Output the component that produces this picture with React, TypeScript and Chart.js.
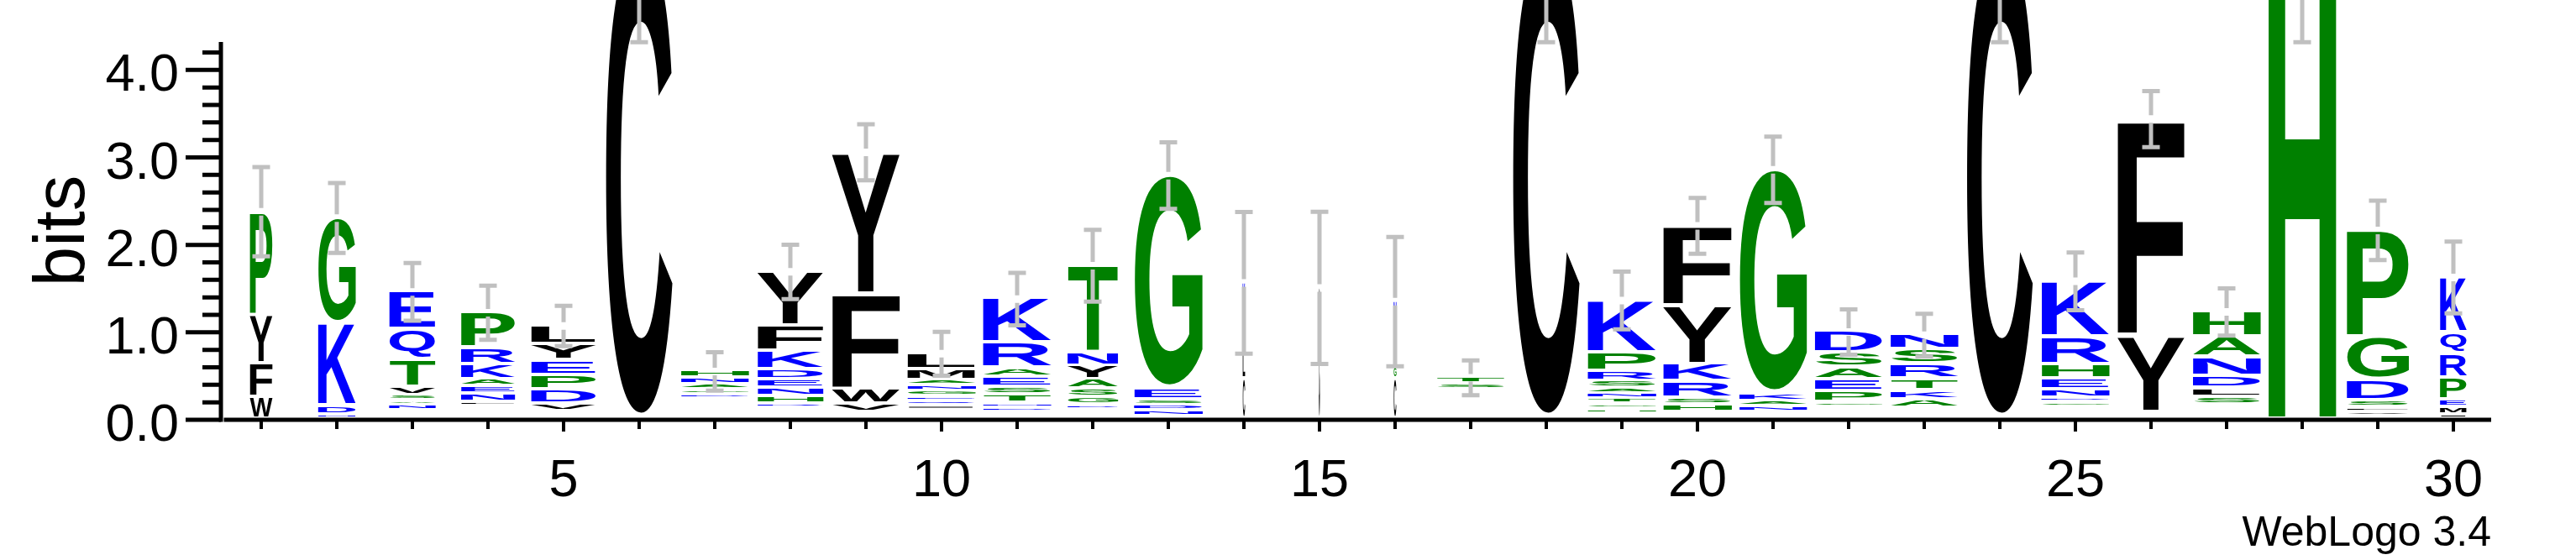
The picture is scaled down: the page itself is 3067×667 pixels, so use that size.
import React, { useEffect, useRef } from 'react';
import { Chart, registerables } from 'chart.js';

Chart.register(...registerables);

const positions = [1, 2, 3, 4, 5, 6, 7, 8, 9, 10, 11, 12, 13, 14, 15, 16, 17, 18, 19, 20, 21, 22, 23, 24, 25, 26, 27, 28, 29, 30];

// letters of each stack, listed bottom -> top
const columnLetters = [
  'WFYP', 'NDKG', 'NASVTQE', 'LNEAKRP', 'VDPEYL', 'C', 'DGANH', 'RHNEDKFY', 'VWFY', 'IQEGNAML',
  'DNTSEARK', 'DGSAYNT', 'NDSEG', 'CLK', 'C', 'CGN', 'ST', 'C', 'HGTNASRPK', 'HSRKYF',
  'NAKG', 'GPEASD', 'AKTRSN', 'C', 'GDNEHRK', 'YF', 'SLDNAH', 'H', 'VLSDGP', 'IMEPRQK',
];

// height of each letter in bits, same order as columnLetters
const columnBits = [
  [0.21, 0.345, 0.52, 1.15],
  [0.01, 0.064, 0.91, 1.17],
  [0.02, 0.016, 0.026, 0.055, 0.27, 0.31, 0.40],
  [0.01, 0.055, 0.048, 0.045, 0.134, 0.15, 0.37],
  [0.048, 0.122, 0.128, 0.128, 0.15, 0.176],
  [5.4],
  [0.01, 0.016, 0.022, 0.032, 0.048],
  [0.016, 0.048, 0.058, 0.058, 0.074, 0.173, 0.25, 0.585],
  [0.058, 0.137, 1.046, 1.59],
  [0.01, 0.019, 0.016, 0.022, 0.026, 0.022, 0.086, 0.147],
  [0.01, 0.016, 0.055, 0.048, 0.08, 0.064, 0.25, 0.47],
  [0.016, 0.048, 0.058, 0.07, 0.118, 0.112, 0.966],
  [0.026, 0.022, 0.022, 0.093, 2.405],
  [0.42, 0.31, 0.72],
  [1.47],
  [0.42, 0.096, 0.72],
  [0.022, 0.041],
  [5.4],
  [0.016, 0.016, 0.022, 0.022, 0.022, 0.048, 0.07, 0.176, 0.566],
  [0.048, 0.038, 0.154, 0.16, 0.633, 0.88],
  [0.025, 0.025, 0.048, 2.53],
  [0.016, 0.09, 0.096, 0.096, 0.128, 0.21],
  [0.058, 0.067, 0.093, 0.128, 0.128, 0.134],
  [5.4],
  [0.013, 0.013, 0.058, 0.086, 0.125, 0.278, 0.605],
  [0.845, 2.44],
  [0.05, 0.067, 0.099, 0.179, 0.198, 0.25],
  [5.38],
  [0.01, 0.01, 0.042, 0.204, 0.454, 1.183],
  [0.01, 0.045, 0.048, 0.217, 0.24, 0.198, 0.6],
];

// bits taken by letters too small to be drawn, at the bottom of each stack
const hiddenBits = [0, 0, 0.096, 0.144, 0.09, 0, 0.233, 0.122, 0.074, 0.1, 0.08, 0.105, 0.032, 0, 0, 0, 0.34, 0, 0.06, 0.074, 0.077, 0.137, 0.128, 0, 0.137, 0.077, 0.16, 0, 0.032, 0];

// error bar half-lengths in bits
const errorBits = [0.51, 0.4, 0.33, 0.31, 0.23, 1.12, 0.22, 0.31, 0.32, 0.25, 0.3, 0.41, 0.38, 0.81, 0.87, 0.74, 0.2, 1.12, 0.33, 0.32, 0.38, 0.26, 0.245, 1.12, 0.33, 0.32, 0.27, 1.1, 0.34, 0.41];

// stack widths as fraction of a full column (fraction of non-gap residues)
const columnWidths = [0.33, 0.55, 0.68, 0.79, 0.95, 0.99, 0.99, 0.96, 0.99, 1, 1, 0.74, 1, 0.035, 0.02, 0.04, 1, 0.99, 1, 1, 0.99, 0.99, 0.99, 0.98, 0.99, 0.98, 0.99, 0.99, 0.91, 0.39];

const xLabeledTicks = [5, 10, 15, 20, 25, 30];
const yMajorTicks = [0, 1, 2, 3, 4];
const yAxisTop = 4.32; // log2(20)
const yMax = 4.8;
const yLabel = 'bits';
const creditText = 'WebLogo 3.4';

// hydrophobicity colour scheme
const hydrophilic = 'RKDENQ';
const neutral = 'SGHTAP';
const colorOf = (ch: string) => (hydrophilic.includes(ch) ? '#0000ff' : neutral.includes(ch) ? '#008000' : '#000000');

const FONT = '"Liberation Sans", Arial, Helvetica, sans-serif';

const metricsCache: Record<string, { L: number; R: number; A: number; D: number }> = {};
function glyphMetrics(ctx: CanvasRenderingContext2D, ch: string) {
  if (!metricsCache[ch]) {
    ctx.save();
    ctx.font = `bold 400px ${FONT}`;
    ctx.textAlign = 'left';
    ctx.textBaseline = 'alphabetic';
    const m = ctx.measureText(ch);
    metricsCache[ch] = {
      L: m.actualBoundingBoxLeft,
      R: m.actualBoundingBoxRight,
      A: m.actualBoundingBoxAscent,
      D: m.actualBoundingBoxDescent,
    };
    ctx.restore();
  }
  return metricsCache[ch];
}

const logoPlugin = {
  id: 'sequenceLogo',
  afterDatasetsDraw(chart: any) {
    const { ctx, chartArea } = chart;
    const xs = chart.scales.x;
    const ys = chart.scales.y;
    const y0 = ys.getPixelForValue(0);
    const ppb = y0 - ys.getPixelForValue(1);
    const step = xs.getPixelForValue(2) - xs.getPixelForValue(1);
    const fullW = step * 0.91;
    const GAP = 4;
    const AXOFF = 2;

    ctx.save();
    const errs: { cx: number; c: number; e: number }[] = [];
    positions.forEach((p, i) => {
      const cx = xs.getPixelForValue(p);
      const w = Math.max(fullW * columnWidths[i], 1);
      let yb = y0 - AXOFF - hiddenBits[i] * ppb;
      const letters = columnLetters[i];
      const bits = columnBits[i];
      let inkTop = yb;
      for (let k = 0; k < letters.length; k++) {
        const ch = letters[k];
        const h = bits[k] * ppb;
        const top = yb - GAP / 2 - h;
        const m = glyphMetrics(ctx, ch);
        const gw = m.L + m.R;
        const gh = m.A + m.D;
        ctx.save();
        ctx.translate(cx - w / 2, top);
        ctx.scale(w / gw, h / gh);
        ctx.font = `bold 400px ${FONT}`;
        ctx.textAlign = 'left';
        ctx.textBaseline = 'alphabetic';
        ctx.fillStyle = colorOf(ch);
        ctx.fillText(ch, m.L, m.A);
        ctx.restore();
        inkTop = top;
        yb = yb - GAP - h;
      }
      errs.push({ cx, c: inkTop, e: errorBits[i] * ppb });
    });

    // error bars
    ctx.strokeStyle = '#c0c0c0';
    ctx.lineWidth = 5;
    ctx.lineCap = 'butt';
    const half = 4.5;
    const capW = 21;
    errs.forEach(({ cx, c, e }) => {
      const hi = c - e;
      const lo = c + e;
      ctx.beginPath();
      ctx.moveTo(cx, hi);
      ctx.lineTo(cx, c - half);
      ctx.moveTo(cx, c + half);
      ctx.lineTo(cx, lo);
      ctx.moveTo(cx - capW / 2, hi);
      ctx.lineTo(cx + capW / 2, hi);
      ctx.moveTo(cx - capW / 2, lo);
      ctx.lineTo(cx + capW / 2, lo);
      ctx.stroke();
    });

    // axes
    ctx.strokeStyle = '#000';
    ctx.lineWidth = 5;
    const yAxisX = chartArea.left - 3;
    ctx.beginPath();
    ctx.moveTo(chartArea.left + 0.5, y0);
    ctx.lineTo(chartArea.right, y0);
    ctx.moveTo(yAxisX, ys.getPixelForValue(yAxisTop));
    ctx.lineTo(yAxisX, y0 + 2.5);
    ctx.stroke();

    // y ticks: major each bit, minor each 0.2 bit
    ctx.beginPath();
    for (let t = 0; t <= 21; t++) {
      const v = t * 0.2;
      const py = ys.getPixelForValue(v);
      const major = t % 5 === 0;
      ctx.moveTo(yAxisX - (major ? 42 : 22), py);
      ctx.lineTo(yAxisX, py);
    }
    ctx.stroke();

    // y tick labels
    ctx.fillStyle = '#000';
    ctx.font = `63px ${FONT}`;
    ctx.textAlign = 'right';
    ctx.textBaseline = 'alphabetic';
    yMajorTicks.forEach((v) => {
      ctx.fillText(v.toFixed(1), 213, ys.getPixelForValue(v) + 25);
    });

    // x ticks
    ctx.lineWidth = 4;
    ctx.beginPath();
    positions.forEach((p) => {
      const px = xs.getPixelForValue(p);
      const major = xLabeledTicks.includes(p);
      ctx.moveTo(px, y0);
      ctx.lineTo(px, y0 + (major ? 14 : 11));
    });
    ctx.stroke();

    // axis title
    ctx.font = `85px ${FONT}`;
    ctx.textAlign = 'center';
    ctx.textBaseline = 'alphabetic';
    ctx.save();
    ctx.translate(100, ys.getPixelForValue(yAxisTop / 2));
    ctx.rotate(-Math.PI / 2);
    ctx.fillText(yLabel, 0, 0);
    ctx.restore();

    // credit
    ctx.font = `50px ${FONT}`;
    ctx.textAlign = 'right';
    ctx.fillText(creditText, chartArea.right, 650);
    ctx.restore();
  },
};

export default function App() {
  const ref = useRef<HTMLCanvasElement>(null);
  useEffect(() => {
    document.body.style.margin = '0';
    const canvas = ref.current!;
    const chart = new Chart(canvas, {
      type: 'scatter',
      data: {
        datasets: [
          {
            data: positions.map((p, i) => ({ x: p, y: columnBits[i].reduce((a, b) => a + b, 0) + hiddenBits[i] })),
            pointRadius: 0,
            showLine: false,
          },
        ],
      },
      options: {
        animation: false,
        responsive: false,
        devicePixelRatio: 1,
        layout: { padding: { left: 0, right: 101, top: 0, bottom: 0 } },
        plugins: { legend: { display: false }, tooltip: { enabled: false }, title: { display: false } },
        scales: {
          x: {
            type: 'linear',
            min: 0.5,
            max: 30.5,
            grid: { display: false },
            border: { display: false },
            afterBuildTicks: (s: any) => {
              s.ticks = positions.map((v) => ({ value: v }));
            },
            afterFit: (s: any) => {
              s.height = 167;
            },
            ticks: {
              autoSkip: false,
              maxRotation: 0,
              minRotation: 0,
              padding: 28,
              color: '#000',
              font: { family: FONT, size: 63 },
              callback: (v: any) => (xLabeledTicks.includes(Number(v)) ? String(v) : ''),
            },
          },
          y: {
            min: 0,
            max: yMax,
            grid: { display: false },
            border: { display: false },
            afterBuildTicks: (s: any) => {
              s.ticks = yMajorTicks.map((v) => ({ value: v }));
            },
            afterFit: (s: any) => {
              s.width = 266;
            },
            ticks: { display: false },
          },
        },
      },
      plugins: [logoPlugin],
    } as any);
    return () => chart.destroy();
  }, []);
  return <canvas ref={ref} width={3067} height={667} style={{ display: 'block' }} />;
}
